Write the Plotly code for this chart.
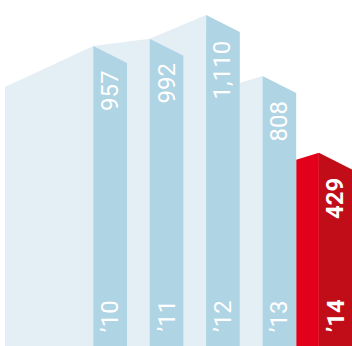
import plotly.graph_objects as go

# ---- data ----
years = ["\u201910", "\u201911", "\u201912", "\u201913", "\u201914"]
values = [957, 992, 1110, 808, 429]
highlight = [False, False, False, False, True]

# ---- layout constants (styling only) ----
W, H = 352, 346
Y_MIN, Y_MAX = -526, 1184          # value axis range
U = (Y_MAX - Y_MIN) / H            # value units per pixel
X0, STEP, FRONT_W = 93.3, 56.4, 33.7
SLANT = 17 * U                     # front-face top slant
DROP = 7 * U                       # roof drop for side faces after a fall
FIRST_LEFT_X, FIRST_DROP = 5, 41 * U

C_SIDE, C_FRONT = "#e3eef5", "#afd4e3"
C_SIDE_HI, C_FRONT_HI = "#e2001a", "#c10d17"

fig = go.Figure()

def poly(xs, ys, color):
    fig.add_trace(go.Scatter(x=xs + [xs[0]], y=ys + [ys[0]], mode="lines",
                             fill="toself", fillcolor=color,
                             line=dict(width=0, color=color),
                             hoverinfo="skip", showlegend=False))

xl = [X0 + i * STEP for i in range(len(values))]
xr = [x + FRONT_W for x in xl]

# side faces
for i, v in enumerate(values):
    col = C_SIDE_HI if highlight[i] else C_SIDE
    if i == 0:
        xs, ys = FIRST_LEFT_X, v - FIRST_DROP
    elif v > values[i - 1]:
        xs, ys = xl[i - 1], values[i - 1]
    else:
        xs, ys = xr[i - 1], v - DROP
    poly([xs, xs, xl[i], xl[i]], [Y_MIN, ys, v, Y_MIN], col)

# front faces
for i, v in enumerate(values):
    col = C_FRONT_HI if highlight[i] else C_FRONT
    poly([xl[i], xl[i], xr[i], xr[i]], [Y_MIN, v, v - SLANT, Y_MIN], col)

# labels
for i, v in enumerate(values):
    bold = highlight[i]
    fam = "Roboto"
    fig.add_annotation(x=(xl[i] + xr[i]) / 2, y=v - 23 * U, text=f"{v:,}",
                       textangle=-90, showarrow=False, xanchor="center", yanchor="top",
                       font=dict(family=fam, size=24, color="white",
                                 weight="bold" if bold else "normal"))
    fig.add_annotation(x=(xl[i] + xr[i]) / 2, y=Y_MIN + 12 * U, text=years[i],
                       textangle=-90, showarrow=False, xanchor="center", yanchor="bottom",
                       font=dict(family=fam, size=24, color="white",
                                 weight="bold" if bold else "normal"))

fig.update_layout(width=W, height=H, margin=dict(l=0, r=0, t=0, b=0),
                  paper_bgcolor="white", plot_bgcolor="white",
                  xaxis=dict(range=[0, W], visible=False, fixedrange=True),
                  yaxis=dict(range=[Y_MIN, Y_MAX], visible=False, fixedrange=True),
                  showlegend=False)
fig.write_html("out.html", config={"displayModeBar": False},
               post_script="document.body.style.margin='0';document.body.style.overflow='hidden';")
